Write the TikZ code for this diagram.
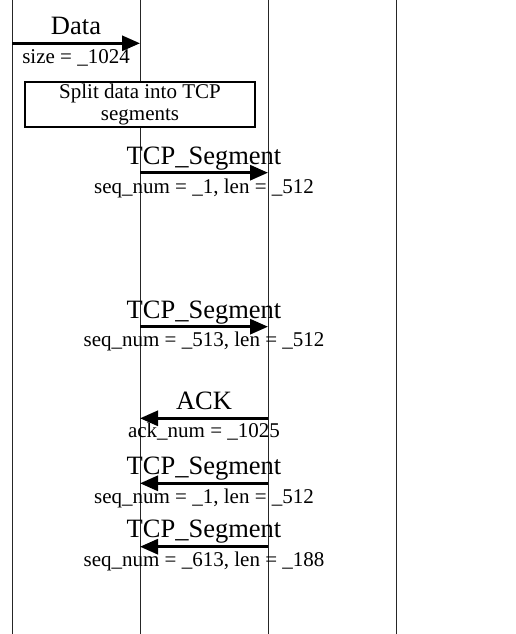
\documentclass[tikz,border=0pt]{standalone}
\usepackage{fontspec}
\setmainfont{Liberation Serif}
\usetikzlibrary{arrows.meta}
\begin{document}
\begin{tikzpicture}[x=1pt,y=-1pt,
  lifeline/.style={line width=1pt, black!85},
  msg/.style={line width=3pt, -{Triangle[length=18pt,width=15pt]}},
  biglabel/.style={font=\fontsize{26.5}{30}\selectfont, anchor=base, inner sep=0pt},
  smalllabel/.style={font=\fontsize{21}{22}\selectfont, anchor=base, inner sep=0pt},
  procbox/.style={draw, fill=white, line width=2.5pt, minimum width=230pt, minimum height=45pt,
    align=center, font=\fontsize{21}{22}\selectfont, inner sep=0pt}]

% canvas
\useasboundingbox (0,0) rectangle (516,634);

% lifelines
\foreach \n/\x in {1/12, 2/140, 3/268, 4/396} {
  \coordinate (top\n) at (\x,0);
  \coordinate (bot\n) at (\x,634);
  \draw[lifeline] (top\n) -- (bot\n);
}

% message end points
\coordinate (d1) at (12,43.3);   \coordinate (d2) at (140,43.3);
\coordinate (s1a) at (140,172.7); \coordinate (s1b) at (268,172.7);
\coordinate (s2a) at (140,326.7); \coordinate (s2b) at (268,326.7);
\coordinate (ka) at (268,418.3);  \coordinate (kb) at (140,418.3);
\coordinate (s3a) at (268,483.3); \coordinate (s3b) at (140,483.3);
\coordinate (s4a) at (268,546.7); \coordinate (s4b) at (140,546.7);

% Data
\draw[msg] (d1) -- (d2);
\node[biglabel] (dataT) at (76,35) {Data};
\node[smalllabel] (dataB) at (76,63.3) {size = \_1024};

% processing step
\node[procbox] (split) at (140,104.5) {Split data into TCP\\segments};

% first segment
\draw[msg] (s1a) -- (s1b);
\node[biglabel] (s1T) at (204,164) {TCP\_Segment};
\node[smalllabel] (s1B) at (204,193) {seq\_num = \_1, len = \_512};

% second segment
\draw[msg] (s2a) -- (s2b);
\node[biglabel] (s2T) at (204,318) {TCP\_Segment};
\node[smalllabel] (s2B) at (204,346.5) {seq\_num = \_513, len = \_512};

% acknowledgement
\draw[msg] (ka) -- (kb);
\node[biglabel] (kT) at (204,409) {ACK};
\node[smalllabel] (kB) at (204,437.5) {ack\_num = \_1025};

% returned segments
\draw[msg] (s3a) -- (s3b);
\node[biglabel] (s3T) at (204,474) {TCP\_Segment};
\node[smalllabel] (s3B) at (204,503) {seq\_num = \_1, len = \_512};

\draw[msg] (s4a) -- (s4b);
\node[biglabel] (s4T) at (204,537.5) {TCP\_Segment};
\node[smalllabel] (s4B) at (204,566.5) {seq\_num = \_613, len = \_188};
\end{tikzpicture}
\end{document}
